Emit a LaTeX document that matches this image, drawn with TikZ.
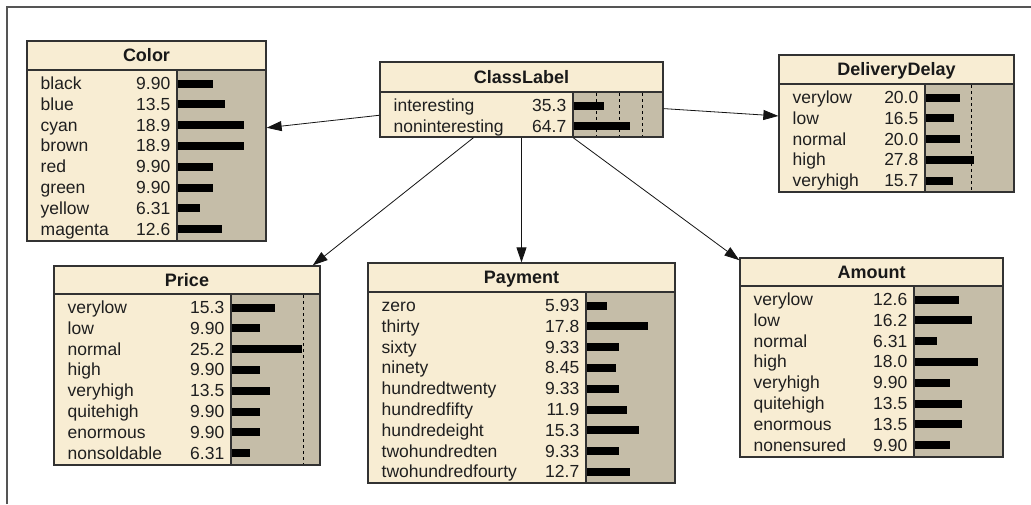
\documentclass[tikz,border=0pt]{standalone}
\usepackage{fontspec}
\setmainfont{Liberation Sans}
\usetikzlibrary{arrows.meta}

\definecolor{nodecream}{RGB}{248,237,211}
\definecolor{bartan}{RGB}{197,189,168}
\definecolor{boxline}{RGB}{50,50,50}
\definecolor{framegray}{RGB}{85,85,85}
\definecolor{linkcol}{RGB}{20,20,20}

\newcommand\rowfont{\fontsize{17.5}{20}\selectfont}
\newcommand\headfont{\fontsize{18}{21}\selectfont\bfseries}

\tikzset{
  boxframe/.style={draw=boxline, line width=1.3pt, rectangle, inner sep=0pt, fill=none},
  rowlabel/.style={anchor=base west, inner sep=0pt, font=\rowfont, text=black!88},
  rowvalue/.style={anchor=base east, inner sep=0pt, font=\rowfont, text=black!88},
  titletext/.style={anchor=base, inner sep=0pt, font=\headfont, text=black!90},
  refline/.style={draw=black, line width=0.9pt, dash pattern=on 3pt off 3pt},
  link/.style={draw=linkcol, line width=0.8pt, -{Triangle[length=15pt,width=10pt]}},
}

% #1 name, #2 left, #3 top, #4 right, #5 bottom, #6 title-bar bottom,
% #7 start of the bar area, #8 title, #9 bar length per percent
\newcommand\netbox[9]{%
  \def\bN{#1}\def\bL{#2}\def\bTB{#6}\def\bX{#7}\def\bS{#9}%
  \fill[nodecream] (#2,#3) rectangle (#4,#5);
  \fill[bartan] (#7,#6) rectangle (#4,#5);
  \draw[boxline, line width=1.3pt] (#2,#6) -- (#4,#6);
  \draw[boxline, line width=1.3pt] (#7,#6) -- (#7,#5);
  \node[boxframe, minimum width={(#4-#2)*1pt}, minimum height={(#5-#3)*1pt}]
    (#1) at ({(#2+#4)/2},{(#3+#5)/2}) {};
  \node[titletext] (#1-title) at ({(#2+#4)/2},{(#3+#6)/2+6}) {#8};
}

% state rows: label, value and probability bar
\newcommand\netrows[1]{%
  \foreach \lab/\val [count=\i from 0] in {#1} {
    \pgfmathsetmacro\ry{\bTB+13.5+20.8*\i}
    \node[rowlabel] (\bN-l\i) at (\bL+13.5,\ry+6) {\lab};
    \node[rowvalue] (\bN-v\i) at (\bX-6.5,\ry+6) {\val};
    \fill[black] (\bX+1,\ry-4) rectangle (\bX+1+\val*\bS,\ry+4);
  }%
}

\begin{document}
\begin{tikzpicture}[x=1pt,y=-1pt]
\useasboundingbox (0,0) rectangle (1031,504);
\fill[white] (0,0) rectangle (1031,504);
\draw[framegray, line width=2pt] (7,504) -- (7,7) -- (1031,7);

% Color
\netbox{color}{27}{41}{266}{241}{70}{177}{Color}{3.5}
\netrows{black/9.90,blue/13.5,cyan/18.9,brown/18.9,red/9.90,green/9.90,yellow/6.31,magenta/12.6}

% ClassLabel
\netbox{class}{380}{62}{663}{137}{92}{573}{ClassLabel}{0.86}
\foreach \dx in {596,619,642} \draw[refline] (\dx,93) -- (\dx,136);
\netrows{interesting/35.3,noninteresting/64.7}

% DeliveryDelay
\netbox{delay}{779}{55}{1014}{192}{84}{925}{DeliveryDelay}{1.72}
\draw[refline] (971,85) -- (971,191);
\netrows{verylow/20.0,low/16.5,normal/20.0,high/27.8,veryhigh/15.7}

% Price
\netbox{price}{54}{266}{320}{465}{294}{231}{Price}{2.78}
\draw[refline] (303,295) -- (303,464);
\netrows{verylow/15.3,low/9.90,normal/25.2,high/9.90,veryhigh/13.5,quitehigh/9.90,enormous/9.90,nonsoldable/6.31}

% Payment
\netbox{payment}{368}{263}{675}{483}{292}{586}{Payment}{3.4}
\netrows{zero/5.93,thirty/17.8,sixty/9.33,ninety/8.45,hundredtwenty/9.33,hundredfifty/11.9,hundredeight/15.3,twohundredten/9.33,twohundredfourty/12.7}

% Amount
\netbox{amount}{740}{258}{1003}{457}{286}{914}{Amount}{3.5}
\netrows{verylow/12.6,low/16.2,normal/6.31,high/18.0,veryhigh/9.90,quitehigh/13.5,enormous/13.5,nonensured/9.90}

% links from the class node
\draw[link] (class) -- (color);
\draw[link] (class) -- (delay);
\draw[link] (class) -- (price);
\draw[link] (class) -- (payment);
\draw[link] (class) -- (amount);
\end{tikzpicture}
\end{document}
